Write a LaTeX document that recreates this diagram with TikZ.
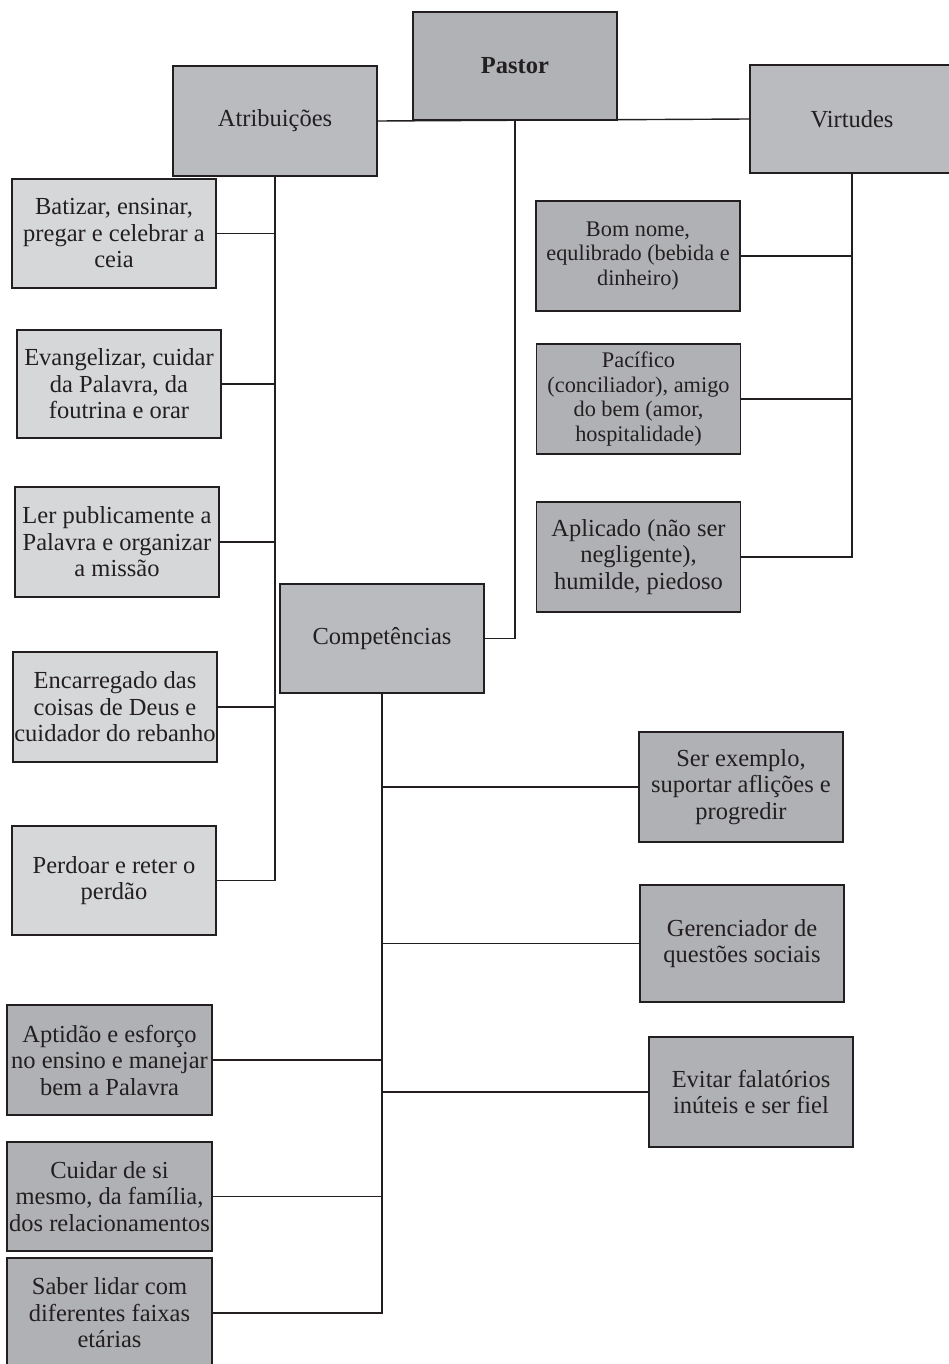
\documentclass[tikz,border=0pt]{standalone}
\usepackage{fontspec}
\setmainfont{Liberation Serif}
\usepackage{xcolor}
\usepackage{tikz}
\usetikzlibrary{calc}
\definecolor{Ink}{HTML}{231F20}
\definecolor{RootGray}{HTML}{B1B2B5}
\definecolor{HeadGray}{HTML}{BABBBE}
\definecolor{LeafDark}{HTML}{B0B1B4}
\definecolor{LeafLight}{HTML}{D6D7D9}

\begin{document}
\begin{tikzpicture}[x=1pt,y=-1pt,
  box/.style={draw=Ink,line width=1.8pt,align=center,inner sep=0pt,
    minimum width=204pt,minimum height=109pt,text=Ink,
    font=\fontsize{24.5}{26.5}\selectfont},
  head/.style={box,fill=HeadGray},
  light/.style={box,fill=LeafLight},
  dark/.style={box,fill=LeafDark},
  tight/.style={font=\fontsize{22.3}{24.8}\selectfont},
  link/.style={draw=Ink,line width=1.4pt}]
\useasboundingbox (0,0) rectangle (949,1364);
\clip (0,0) rectangle (949,1364);
% top level
\node[box,fill=RootGray,minimum height=108pt,font=\fontsize{24.5}{26.5}\selectfont\bfseries] (pastor) at (515,66) {Pastor};
\node[head,minimum height=110pt] (atr) at (275,121) {Atribuições};
\node[head,minimum height=108pt] (vir) at (852,119) {Virtudes};
\node[head] (comp) at (382,638.5) {Competências};
% atribuicoes
\node[light] (batizar) at (114,233.5) {Batizar, ensinar,\\pregar e celebrar a\\ceia};
\node[light,minimum height=108pt] (evang) at (119,384) {Evangelizar, cuidar\\da Palavra, da\\foutrina e orar};
\node[light,minimum height=110pt] (ler) at (117,542) {Ler publicamente a\\Palavra e organizar\\a missão};
\node[light,minimum height=110pt] (encarr) at (115,707) {Encarregado das\\coisas de Deus e\\cuidador do rebanho};
\node[light] (perdoar) at (114,880.5) {Perdoar e reter o\\perdão};
% virtudes
\node[dark,tight,minimum height=110pt] (bom) at (638,256) {Bom nome,\\equlibrado (bebida e\\dinheiro)};
\node[dark,tight,minimum height=110pt] (pacif) at (638.5,399) {Pacífico\\(conciliador), amigo\\do bem (amor,\\hospitalidade)};
\node[dark,minimum height=110pt] (aplic) at (638.5,557) {Aplicado (não ser\\negligente),\\humilde, piedoso};
% competencias
\node[dark,minimum height=110pt] (ser) at (741,787) {Ser exemplo,\\suportar aflições e\\progredir};
\node[dark,minimum height=117pt] (geren) at (742,943.5) {Gerenciador de\\questões sociais};
\node[dark,minimum height=110pt] (evitar) at (751,1092) {Evitar falatórios\\inúteis e ser fiel};
\node[dark,minimum width=205pt,minimum height=110pt] (aptid) at (109.5,1060) {Aptidão e esforço\\no ensino e manejar\\bem a Palavra};
\node[dark,minimum width=205pt] (cuidar) at (109.5,1196.5) {Cuidar de si\\mesmo, da família,\\dos relacionamentos};
\node[dark,minimum width=205pt,minimum height=110pt] (saber) at (109.5,1313) {Saber lidar com\\diferentes faixas\\etárias};
% connectors
\draw[link] (atr.east) -- (vir.west);
\draw[link] (pastor.south) |- (comp.east);
\draw[link] (atr.south) |- (perdoar.east);
\foreach \n in {batizar,evang,ler,encarr}
  \draw[link] (\n.east) -- (\n.east -| atr.south);
\draw[link] (vir.south) |- (aplic.east);
\foreach \n in {bom,pacif}
  \draw[link] (\n.east) -- (\n.east -| vir.south);
\draw[link] (comp.south) |- (saber.east);
\foreach \n in {ser,geren,evitar}
  \draw[link] (\n.west) -- (\n.west -| comp.south);
\foreach \n in {aptid,cuidar}
  \draw[link] (\n.east) -- (\n.east -| comp.south);
\end{tikzpicture}
\end{document}
